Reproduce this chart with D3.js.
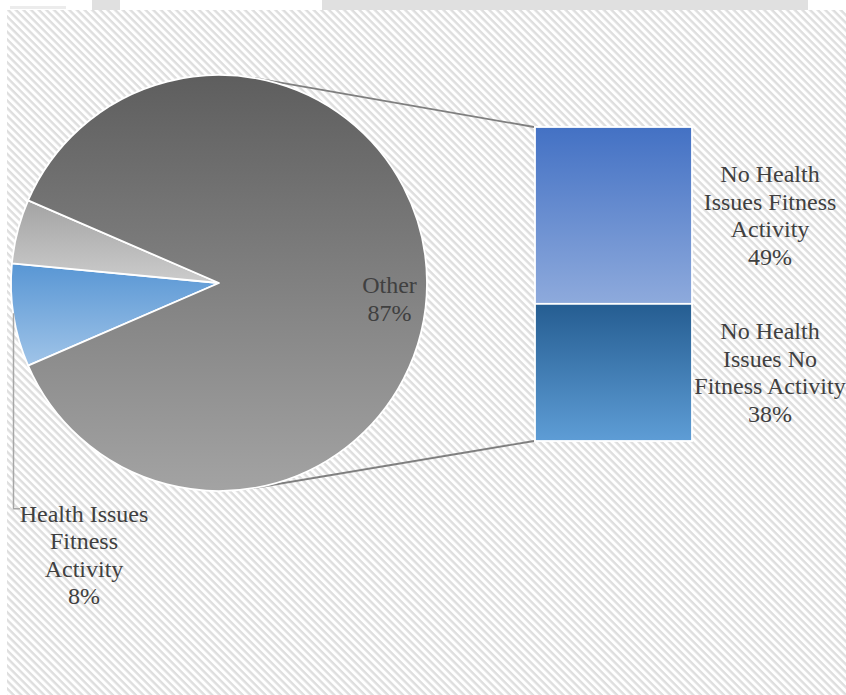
<!DOCTYPE html>
<html>
<head>
<meta charset="utf-8">
<script src="https://cdn.jsdelivr.net/npm/d3@7"></script>
<style>
  html, body { margin: 0; padding: 0; background: #ffffff; }
  svg { display: block; }
  text { font-family: "Liberation Serif", "Times New Roman", serif; fill: #404040; }
</style>
</head>
<body>
<svg id="chart" width="846" height="695"></svg>
<script>
// Pie slices (the last one is the "Other" group that is broken out into the bar)
const pieCategories = ["Health Issues Fitness Activity", "Health Issues No Fitness Activity", "Other"];
const pieValues = [8, 5, 87];
const pieLabelShown = [true, false, true];

// Breakdown of "Other" shown as the stacked bar
const barCategories = ["No Health Issues Fitness Activity", "No Health Issues No Fitness Activity"];
const barValues = [49, 38];

const svg = d3.select("#chart");
const W = 846, H = 695;
const defs = svg.append("defs");

// Diagonal hatch background
const pat = defs.append("pattern")
  .attr("id", "hatch").attr("patternUnits", "userSpaceOnUse")
  .attr("width", 5.4).attr("height", 5.4)
  .attr("patternTransform", "rotate(45)");
pat.append("rect").attr("width", 5.4).attr("height", 5.4).attr("fill", "#ffffff");
pat.append("rect").attr("width", 5.4).attr("height", 2.4).attr("fill", "#dedede");

function vGrad(id, top, bottom) {
  const g = defs.append("linearGradient").attr("id", id)
    .attr("x1", 0).attr("y1", 0).attr("x2", 0).attr("y2", 1);
  g.append("stop").attr("offset", "0%").attr("stop-color", top);
  g.append("stop").attr("offset", "100%").attr("stop-color", bottom);
}
vGrad("gPie0", "#5896d4", "#a0c4e8");
vGrad("gPie1", "#a3a3a3", "#cccccc");
vGrad("gPie2", "#5e5e5e", "#a3a3a3");
vGrad("gBar0", "#4371c4", "#8eaadc");
vGrad("gBar1", "#255d91", "#5e9dd6");

// page strip above the chart area
svg.append("rect").attr("x", 0).attr("y", 0).attr("width", W).attr("height", 10).attr("fill", "#ffffff");
svg.append("rect").attr("x", 92).attr("y", 0).attr("width", 28).attr("height", 10).attr("fill", "#e0e0e0");
svg.append("rect").attr("x", 322).attr("y", 0).attr("width", 486).attr("height", 10).attr("fill", "#e0e0e0");
svg.append("rect").attr("x", 10).attr("y", 6).attr("width", 56).attr("height", 3).attr("fill", "#ececec");

// chart area
svg.append("rect").attr("x", 7).attr("y", 10).attr("width", W - 7).attr("height", H - 10).attr("fill", "url(#hatch)");

// geometry
const cx = 219, cy = 283, r = 208;
const barX = 535, barW = 157, barTop = 127, barBottom = 441;

const total = d3.sum(pieValues);
const otherShare = pieValues[pieValues.length - 1] / total;
// "Other" is centred on the right-hand side, facing the bar
const start = Math.PI / 2 - otherShare * Math.PI - (1 - otherShare) * 2 * Math.PI;
const pie = d3.pie().sort(null).startAngle(start).endAngle(start + 2 * Math.PI);
const arcs = pie(pieValues);
const arc = d3.arc().innerRadius(0).outerRadius(r);

// stacked bar scale
const barTotal = d3.sum(barValues);
const y = d3.scaleLinear().domain([0, barTotal]).range([barTop, barBottom]);
const stacked = [];
let acc = 0;
barValues.forEach((v, i) => { stacked.push({ i, y0: acc, y1: acc + v, v }); acc += v; });

// connector (series) lines: tangent from the bar corners to the pie
function tangentPoint(px, py, upper) {
  const dx = px - cx, dy = py - cy;
  const d = Math.hypot(dx, dy);
  const base = Math.atan2(dy, dx);
  const off = Math.acos(r / d);
  const a = upper ? base - off : base + off;
  return [cx + r * Math.cos(a), cy + r * Math.sin(a)];
}
const tTop = tangentPoint(barX - 1, y(0), true);
const tBot = tangentPoint(barX - 1, y(barTotal), false);
svg.append("line").attr("x1", tTop[0]).attr("y1", tTop[1]).attr("x2", barX - 1).attr("y2", y(0))
  .attr("stroke", "#7f7f7f").attr("stroke-width", 1.8);
svg.append("line").attr("x1", tBot[0]).attr("y1", tBot[1]).attr("x2", barX - 1).attr("y2", y(barTotal))
  .attr("stroke", "#7f7f7f").attr("stroke-width", 1.8);

// pie
const pieG = svg.append("g").attr("transform", `translate(${cx},${cy})`);
pieG.selectAll("path").data(arcs).join("path")
  .attr("d", arc)
  .attr("fill", (d, i) => `url(#gPie${i})`)
  .attr("stroke", "#ffffff").attr("stroke-width", 1.8).attr("stroke-linejoin", "round");

// bar
svg.append("g").selectAll("rect").data(stacked).join("rect")
  .attr("x", barX).attr("width", barW)
  .attr("y", d => y(d.y0)).attr("height", d => y(d.y1) - y(d.y0))
  .attr("fill", d => `url(#gBar${d.i})`)
  .attr("stroke", "#ffffff").attr("stroke-width", 1.8);

// text helpers
const fs = 24, lh = 27.6;
function wrapWords(text, maxW) {
  const probe = svg.append("text").attr("font-size", fs);
  const words = text.split(" ");
  const lines = [];
  let cur = "";
  words.forEach(w => {
    const t = cur ? cur + " " + w : w;
    probe.text(t);
    if (probe.node().getComputedTextLength() > maxW && cur) { lines.push(cur); cur = w; }
    else cur = t;
  });
  if (cur) lines.push(cur);
  probe.remove();
  return lines;
}
function drawLabel(lines, x, midY) {
  const t = svg.append("text").attr("font-size", fs).attr("text-anchor", "middle");
  const first = midY - (lines.length - 1) / 2 * lh + fs * 0.33;
  lines.forEach((s, k) => t.append("tspan").attr("x", x).attr("y", first + k * lh).text(s));
  return t;
}
const pct = v => Math.round(v / total * 100) + "%";

// pie labels
arcs.forEach((a, i) => {
  if (!pieLabelShown[i]) return;
  const cat = pieCategories[i];
  if (i === pieValues.length - 1) {
    // inside the large slice
    const mid = (a.startAngle + a.endAngle) / 2;
    const lx = cx + Math.sin(mid) * r * 0.82, ly = cy - Math.cos(mid) * r * 0.82;
    drawLabel([cat, pct(a.value)], lx, ly + 16);
  } else {
    // outside label with a leader line
    const lines = wrapWords(cat, 140).concat([pct(a.value)]);
    const lx = 84, ly = 555;
    const top = ly - (lines.length - 1) / 2 * lh - fs * 0.45;
    const leadX = 13.5;
    const leadY = cy + Math.sqrt(r * r - (cx - leadX) ** 2);
    svg.append("path")
      .attr("d", `M${leadX},${leadY - 2}V${top + 6}H${lx - 64}`)
      .attr("fill", "none").attr("stroke", "#a6a6a6").attr("stroke-width", 1.5);
    drawLabel(lines, lx, ly);
  }
});

// bar labels
stacked.forEach(d => {
  const lines = wrapWords(barCategories[d.i], 158).concat([pct(d.v)]);
  drawLabel(lines, barX + barW + 78, (y(d.y0) + y(d.y1)) / 2);
});
</script>
</body>
</html>
